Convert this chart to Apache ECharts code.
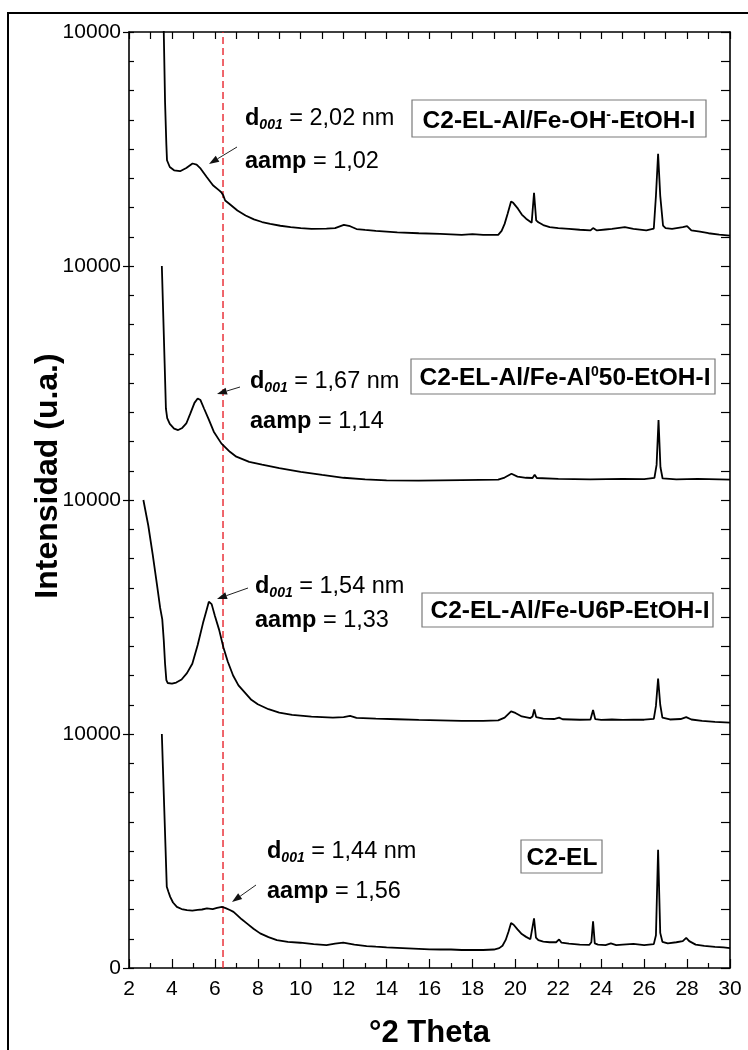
<!DOCTYPE html>
<html><head><meta charset="utf-8">
<script src="https://cdn.jsdelivr.net/npm/echarts@6/dist/echarts.min.js"></script>
<style>html,body{margin:0;padding:0;background:#fff}#c{width:748px;height:1050px}</style>
</head><body><div id="c"></div>
<script>
// ---------- DATA (absolute values on the shared, stacked intensity axis) ----------
const ohTheta = [3.58,3.62,3.68,3.74,3.77,3.9,4.1,4.38,4.67,4.96,5.15,5.34,5.62,5.91,6.2,6.3,6.39,6.48,6.67,7.05,7.43,7.82,8.2,8.58,9.05,9.53,10.0,10.5,11.2,11.6,12.01,12.3,12.6,13.0,13.5,14.0,14.5,15.5,16.5,17.5,18.0,18.5,19.2,19.36,19.5,19.64,19.8,19.9,20.12,20.3,20.5,20.76,20.87,20.97,21.07,21.3,21.6,22.0,22.5,23.0,23.5,23.62,23.8,24.2,24.5,25.1,25.5,26.1,26.45,26.55,26.65,26.75,26.88,27.0,27.3,27.8,28.0,28.2,28.6,29.0,29.5,30.0];
const ohIntensity = [42000,40000,37000,35200,34520,34230,34090,34050,34190,34380,34330,34160,33800,33450,33230,33150,33020,32800,32660,32370,32160,31990,31880,31800,31720,31660,31620,31590,31600,31620,31760,31700,31580,31540,31500,31470,31440,31400,31370,31330,31360,31330,31330,31500,31800,32230,32760,32700,32450,32200,32020,31850,33130,31950,31870,31750,31660,31620,31590,31550,31520,31620,31520,31560,31590,31660,31590,31520,31600,33000,34790,33000,31730,31620,31590,31660,31700,31520,31470,31400,31340,31300];

const al50Theta = [3.53,3.6,3.66,3.72,3.78,3.9,4.1,4.29,4.48,4.67,4.86,5.05,5.2,5.33,5.5,5.7,5.95,6.3,6.7,7.0,7.6,8.2,9.0,10.0,11.0,12.0,13.0,14.0,15.5,17.5,19.2,19.5,19.82,20.1,20.5,20.8,20.9,21.0,22.0,23.5,25.0,26.0,26.48,26.58,26.67,26.76,26.86,27.5,28.5,30.0];
const al50Intensity = [30000,27760,25840,23900,23500,23250,23050,22990,23080,23270,23700,24150,24340,24270,23900,23480,22920,22420,22060,21850,21630,21510,21360,21200,21070,20950,20880,20840,20830,20850,20870,20960,21120,21000,20950,20940,21080,20940,20900,20880,20900,20890,20950,21500,23420,21400,20920,20880,20900,20870];

const u6pTheta = [2.67,2.9,3.1,3.3,3.45,3.55,3.62,3.68,3.74,3.8,4.0,4.2,4.45,4.7,4.95,5.2,5.45,5.6,5.72,5.85,6.0,6.2,6.4,6.6,6.85,7.1,7.4,7.7,8.0,8.5,9.0,9.6,10.5,11.5,12.0,12.3,12.6,13.5,14.5,15.5,16.5,17.5,18.5,19.2,19.5,19.8,20.0,20.3,20.7,20.8,20.88,20.97,21.3,21.8,22.04,22.2,23.0,23.5,23.62,23.72,24.0,24.5,25.0,25.5,26.0,26.45,26.55,26.65,26.75,26.85,27.2,27.7,27.96,28.2,28.7,29.3,30.0];
const u6pIntensity = [20000,18900,17700,16400,15400,14900,14000,13000,12300,12180,12150,12200,12330,12600,13000,13800,14750,15250,15650,15550,15050,14450,13700,13100,12500,12080,11770,11460,11270,11060,10910,10815,10740,10700,10720,10770,10690,10660,10630,10600,10580,10560,10560,10580,10700,10970,10900,10750,10680,10750,11050,10720,10660,10640,10700,10630,10610,10620,11030,10640,10600,10620,10600,10610,10610,10650,11200,12370,11250,10700,10620,10640,10720,10620,10560,10520,10490];

const c2elTheta = [3.53,3.58,3.64,3.70,3.76,3.84,3.92,4.05,4.23,4.45,4.7,4.95,5.2,5.4,5.63,5.9,6.1,6.33,6.5,6.7,6.87,7.05,7.25,7.49,7.8,8.11,8.5,8.89,9.4,9.98,10.6,11.2,11.6,11.98,12.5,13.07,13.5,14.0,14.5,15.0,15.5,16.0,16.5,17.0,17.5,18.0,18.5,19.0,19.25,19.4,19.55,19.68,19.8,19.92,20.1,20.3,20.5,20.7,20.78,20.87,20.96,21.07,21.3,21.6,21.9,22.04,22.15,22.5,23.0,23.45,23.54,23.62,23.7,23.85,24.2,24.45,24.7,25.0,25.5,26.0,26.45,26.55,26.65,26.75,26.85,27.1,27.5,27.8,27.96,28.1,28.4,28.8,29.3,29.7,30.0];
const c2elIntensity = [10000,8580,6880,5180,3470,3250,3040,2800,2614,2520,2473,2450,2480,2500,2545,2520,2570,2614,2560,2480,2400,2250,2080,1906,1680,1480,1320,1194,1120,1080,1020,980,1040,1080,1000,938,910,880,860,840,820,800,790,790,770,770,770,790,850,950,1200,1550,1920,1850,1650,1450,1330,1230,1300,2120,1300,1190,1130,1100,1100,1220,1080,1040,1000,990,1100,2000,1050,1000,980,1050,980,1000,1030,980,1020,1400,5050,1500,1120,1050,1100,1150,1290,1150,1000,950,900,880,850];

const d001Theta = 6.38;                       // red dashed reference line
const yTickLabels = ['0','10000','10000','10000','10000'];
const sampleNames = ['C2-EL-Al/Fe-OH⁻-EtOH-I','C2-EL-Al/Fe-Al⁰50-EtOH-I','C2-EL-Al/Fe-U6P-EtOH-I','C2-EL'];
const d001Values = ['2,02','1,67','1,54','1,44'];
const aampValues = ['1,02','1,14','1,33','1,56'];

// ---------- CHART ----------
const FONT = '"Liberation Sans", Arial, Helvetica, sans-serif';
const chart = echarts.init(document.getElementById('c'), null, {renderer:'canvas', width:748, height:1050});
const pairs = (xs, ys) => xs.map((x, i) => [x, ys[i]]);

const axisLine = {show:true, onZero:false, lineStyle:{color:'#000', width:1.6}};
const tickStyle = {color:'#000', width:1.2};

function traceSeries(name, xs, ys) {
  return {name, type:'line', data:pairs(xs, ys), xAxisIndex:0, yAxisIndex:0,
    showSymbol:false, symbol:'none', clip:true, silent:true, z:3,
    lineStyle:{color:'#000', width:1.8}};
}

// annotation placement (pixels)
const annPos = [
  {x:245, y1:119, y2:162, ar:[237,147,209,164]},
  {x:250, y1:382, y2:422, ar:[240,387,217,394]},
  {x:255, y1:587, y2:621, ar:[248,588,217,599]},
  {x:267, y1:852, y2:892, ar:[256,885,232,902]}
];
const boxPos = [
  {x:412, y:100, w:294, h:37, tx:559, ty:121},
  {x:411, y:359, w:304, h:35, tx:565, ty:378},
  {x:422, y:593, w:291, h:34, tx:570, ty:611},
  {x:521, y:840, w:81,  h:33, tx:562, ty:858}
];
const boxRich = [
  '{t|C2-EL-Al/Fe-OH}{p|-}{t|-EtOH-I}',
  '{t|C2-EL-Al/Fe-Al}{p|0}{t|50-EtOH-I}',
  '{t|C2-EL-Al/Fe-U6P-EtOH-I}',
  '{t|C2-EL}'
];

const annRich = {
  b:{fontFamily:FONT, fontSize:23.5, fontWeight:'bold', fill:'#000', lineHeight:26},
  s:{fontFamily:FONT, fontSize:14, fontWeight:'bold', fontStyle:'italic', fill:'#000', verticalAlign:'bottom'},
  n:{fontFamily:FONT, fontSize:23.5, fill:'#000', lineHeight:26}
};
const boxRichStyle = {
  t:{fontFamily:FONT, fontSize:24.5, fontWeight:'bold', fill:'#000', lineHeight:26},
  p:{fontFamily:FONT, fontSize:14, fontWeight:'bold', fill:'#000', verticalAlign:'top'}
};

function arrow(x1, y1, x2, y2) {
  const a = Math.atan2(y2 - y1, x2 - x1), L = 10, W = 3.5;
  const bx = x2 - L * Math.cos(a), by = y2 - L * Math.sin(a);
  const px = -Math.sin(a) * W, py = Math.cos(a) * W;
  return [
    {type:'line', shape:{x1, y1, x2:bx, y2:by}, style:{stroke:'#222', lineWidth:1}, silent:true, z:10},
    {type:'polygon', shape:{points:[[x2, y2],[bx + px, by + py],[bx - px, by - py]]}, style:{fill:'#111'}, silent:true, z:10}
  ];
}

const graphics = [
  {type:'rect', shape:{x:8, y:13, width:800, height:1100}, style:{fill:'none', stroke:'#000', lineWidth:2}, silent:true, z:-5},
  {type:'text', x:48, y:476, rotation:Math.PI/2, silent:true,
   style:{text:'Intensidad (u.a.)', font:'bold 32px ' + FONT, fill:'#000', textAlign:'center', textVerticalAlign:'middle'}},
  {type:'text', x:429.5, y:1033, silent:true,
   style:{text:'°2 Theta', font:'bold 31px ' + FONT, fill:'#000', textAlign:'center', textVerticalAlign:'middle'}}
];
annPos.forEach((p, i) => {
  graphics.push({type:'text', x:p.x, y:p.y1, silent:true, z:10,
    style:{text:'{b|d}{s|001}{n| = ' + d001Values[i] + ' nm}', rich:annRich, textAlign:'left', textVerticalAlign:'middle'}});
  graphics.push({type:'text', x:p.x, y:p.y2, silent:true, z:10,
    style:{text:'{b|aamp}{n| = ' + aampValues[i] + '}', rich:annRich, textAlign:'left', textVerticalAlign:'middle'}});
  graphics.push(...arrow(...p.ar));
});
boxPos.forEach((b, i) => {
  graphics.push({type:'rect', shape:{x:b.x, y:b.y, width:b.w, height:b.h}, silent:true, z:10,
    style:{fill:'#fff', stroke:'#7a7a7a', lineWidth:1.2}});
  graphics.push({type:'text', x:b.tx, y:b.ty, silent:true, z:11,
    style:{text:boxRich[i], rich:boxRichStyle, textAlign:'center', textVerticalAlign:'middle'}});
});

chart.setOption({
  animation:false,
  backgroundColor:'#fff',
  grid:{left:129, right:18, top:32, bottom:82, containLabel:false, outerBoundsMode:'none'},
  xAxis:[
    {type:'value', position:'bottom', min:2, max:30, interval:2,
     axisLine, axisTick:{inside:true, length:9, lineStyle:tickStyle},
     minorTick:{show:true, splitNumber:2, length:5, lineStyle:tickStyle},
     axisLabel:{fontSize:21, color:'#000', fontFamily:FONT, margin:11},
     splitLine:{show:false}, minorSplitLine:{show:false}},
    {type:'value', position:'top', min:2, max:30, interval:1,
     axisLine, axisTick:{inside:true, length:7, lineStyle:tickStyle},
     axisLabel:{show:false}, splitLine:{show:false}}
  ],
  yAxis:[
    {type:'value', position:'left', min:0, max:40000, interval:10000,
     axisLine, axisTick:{inside:false, length:6, lineStyle:tickStyle},
     axisLabel:{fontSize:21, color:'#000', fontFamily:FONT, margin:8,
       formatter:(v) => yTickLabels[Math.round(v / 10000)]},
     splitLine:{show:false}},
    {type:'value', position:'right', min:0, max:40000, interval:1250,
     axisLine, axisTick:{inside:true, length:9, lineStyle:tickStyle},
     axisLabel:{show:false}, splitLine:{show:false}},
    {type:'value', position:'left', min:0, max:40000, interval:1250,
     axisLine:{show:false}, axisTick:{inside:true, length:5, lineStyle:tickStyle},
     axisLabel:{show:false}, splitLine:{show:false}}
  ],
  series:[
    {name:'d001', type:'line', data:[[d001Theta, 0],[d001Theta, 40000]], xAxisIndex:0, yAxisIndex:0,
     showSymbol:false, symbol:'none', silent:true, z:2,
     lineStyle:{color:'#e8242c', width:1.4, type:[7,4]}},
    traceSeries(sampleNames[0], ohTheta, ohIntensity),
    traceSeries(sampleNames[1], al50Theta, al50Intensity),
    traceSeries(sampleNames[2], u6pTheta, u6pIntensity),
    traceSeries(sampleNames[3], c2elTheta, c2elIntensity)
  ],
  graphic:graphics
});
</script>
</body></html>
